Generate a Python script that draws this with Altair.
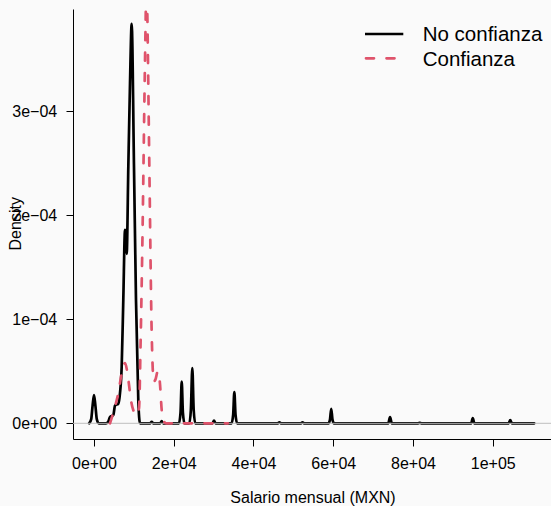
import altair as alt
import pandas as pd

# ---- data ----
series_names = ["No confianza", "Confianza"]

no_conf_x = [-1200, -700, -350, 0, 350, 700, 1200, 3000, 3500, 4010, 4850, 5270, 6100, 6520,
             6940, 7350, 7780, 8030, 8200, 8610, 9030, 9450, 10030, 10530, 11110, 11540,
             14100, 14470, 14850, 16600, 16980, 17350,
             21300, 21700, 22000, 22300, 22700,
             23900, 24300, 24660, 25000, 25400,
             29700, 30100, 30500,
             34500, 34900, 35200, 35500, 35900,
             46100, 46500, 46900,
             51900, 52300, 52700,
             58800, 59200, 59500, 59800, 60200,
             73800, 74250, 74700,
             81300, 81700, 82100,
             94600, 95000, 95400,
             104000, 104400, 104800,
             110400]
no_conf_y = [0, 0.04e-4, 0.17e-4, 0.27e-4, 0.17e-4, 0.04e-4, 0, 0, 0.01e-4, 0.06e-4, 0.08e-4, 0.17e-4, 0.19e-4, 0.29e-4,
             0.54e-4, 1.19e-4, 1.86e-4, 1.80e-4, 1.63e-4, 2.47e-4, 3.27e-4, 3.84e-4, 2.47e-4, 1.19e-4, 0.22e-4, 0,
             0, 0.015e-4, 0, 0, 0.02e-4, 0,
             0, 0.10e-4, 0.40e-4, 0.10e-4, 0,
             0, 0.13e-4, 0.53e-4, 0.13e-4, 0,
             0, 0.025e-4, 0,
             0, 0.08e-4, 0.30e-4, 0.08e-4, 0,
             0, 0.01e-4, 0,
             0, 0.01e-4, 0,
             0, 0.04e-4, 0.14e-4, 0.04e-4, 0,
             0, 0.06e-4, 0,
             0, 0.005e-4, 0,
             0, 0.05e-4, 0,
             0, 0.03e-4, 0,
             0]

conf_x = [4010, 5270, 6100, 6940, 7780, 8610, 9280, 10030, 10800, 11300, 11700, 12200, 12600,
          12960, 13170, 13380, 13880, 14470, 15000, 15400, 16000, 16500, 17000, 17500, 18100,
          20800, 21600, 22500, 33600]
conf_y = [0, 0.16e-4, 0.29e-4, 0.48e-4, 0.58e-4, 0.42e-4, 0.22e-4, 0.11e-4, 0.08e-4, 0.15e-4, 0.80e-4, 1.90e-4, 3.00e-4,
          3.90e-4, 4.40e-4, 3.93e-4, 2.47e-4, 0.87e-4, 0.40e-4, 0.42e-4, 0.50e-4, 0.40e-4, 0.12e-4, 0.02e-4, 0,
          0, 0.012e-4, 0, 0]

x_tick_values = [0, 20000, 40000, 60000, 80000, 100000]
x_tick_labels = ["0e+00", "2e+04", "4e+04", "6e+04", "8e+04", "1e+05"]
y_tick_values = [0, 1e-4, 2e-4, 3e-4]
y_tick_labels = ["0e+00", "1e\u221204", "2e\u221204", "3e\u221204"]

x_title = "Salario mensual (MXN)"
y_title = "Density"

# ---- helpers ----
def label_expr(values, labels):
    expr = "''"
    for v, l in reversed(list(zip(values, labels))):
        expr = f"abs(datum.value - ({v!r})) < {abs(v) * 1e-6 + 1e-12!r} ? '{l}' : ({expr})"
    return expr

FONT = "Liberation Sans"
W, H = 478, 430
x_dom = [-5267, 114620]
y_dom = [-0.151e-4, 3.984e-4]

df_nc = pd.DataFrame({"x": no_conf_x, "y": no_conf_y})
df_c = pd.DataFrame({"x": conf_x, "y": conf_y})

x_enc = alt.X("x:Q", scale=alt.Scale(domain=x_dom, nice=False, zero=False),
              axis=alt.Axis(values=x_tick_values, labelExpr=label_expr(x_tick_values, x_tick_labels),
                            title=x_title, grid=False, tickSize=7, labelPadding=22.3,
                            labelBaseline="alphabetic", labelAlign="center", labelFlush=False,
                            titleX=239.5, titleY=63.7, titleBaseline="alphabetic", titleAlign="center",
                            labelOverlap=False))
y_enc = alt.Y("y:Q", scale=alt.Scale(domain=y_dom, nice=False, zero=False),
              axis=alt.Axis(values=y_tick_values, labelExpr=label_expr(y_tick_values, y_tick_labels),
                            title=y_title, grid=False, tickSize=7, labelPadding=9.3,
                            labelAlign="right", labelBaseline="middle", labelFlush=False,
                            titleAngle=270, titleX=-57.5, titleY=214.3, titleAlign="center",
                            titleBaseline="middle", labelOverlap=False))

black = alt.Chart(df_nc).mark_line(color="black", strokeWidth=2.7, clip=True,
                                   interpolate="monotone", strokeJoin="round", strokeCap="round").encode(
    x=x_enc, y=y_enc)

zero_line = alt.Chart(pd.DataFrame({"z": [0]})).mark_rule(color="#BEBEBE", strokeWidth=1).encode(
    y=alt.Y("z:Q", scale=alt.Scale(domain=y_dom, nice=False, zero=False)))

red = alt.Chart(df_c).mark_line(color="#DF536B", strokeWidth=2.7, clip=True, interpolate="monotone",
                                strokeDash=[8, 12.5], strokeCap="round").encode(
    x=alt.X("x:Q"), y=alt.Y("y:Q"))

# manual legend (top right)
LEG_FS = 20.5
leg_black = alt.Chart(pd.DataFrame({"s": [series_names[0]]})).mark_rule(
    color="black", strokeWidth=2.7).encode(x=alt.value(292), x2=alt.value(330.3), y=alt.value(25))
leg_red = alt.Chart(pd.DataFrame({"s": [series_names[1]]})).mark_rule(
    color="#DF536B", strokeWidth=2.7, strokeDash=[8, 12.5], strokeCap="round").encode(
    x=alt.value(293), x2=alt.value(330.3), y=alt.value(49.3))
leg_t1 = alt.Chart(pd.DataFrame({"s": [series_names[0]]})).mark_text(
    align="left", baseline="alphabetic", fontSize=LEG_FS, font=FONT, color="black").encode(
    x=alt.value(349.7), y=alt.value(32), text="s:N")
leg_t2 = alt.Chart(pd.DataFrame({"s": [series_names[1]]})).mark_text(
    align="left", baseline="alphabetic", fontSize=LEG_FS, font=FONT, color="black").encode(
    x=alt.value(349.7), y=alt.value(56.7), text="s:N")

chart = alt.layer(black, zero_line, red, leg_black, leg_red, leg_t1, leg_t2).properties(
    width=W, height=H,
    padding={"left": 73, "top": 9, "right": 0, "bottom": 67},
    autosize=alt.AutoSizeParams(type="none"),
    background="#FAFAFA",
).configure_view(stroke=None).configure_axis(
    domainColor="black", domainWidth=1, tickColor="black", tickWidth=1,
    labelFont=FONT, labelFontSize=16, labelColor="black",
    titleFont=FONT, titleFontSize=16, titleFontWeight="normal", titleColor="black",
)

chart.save("out.html", embed_options={"renderer": "svg", "actions": False})
